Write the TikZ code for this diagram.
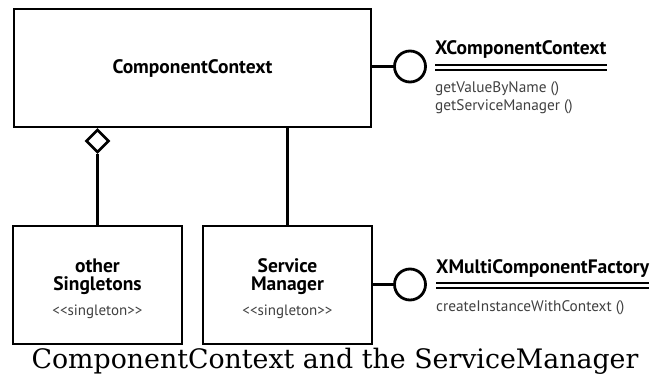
\documentclass[tikz,border=0pt]{standalone}
\usepackage{fontspec}
\newfontfamily\dg{PT Sans}
\newfontfamily\capf{DejaVu Serif}
\usetikzlibrary{shapes.geometric}
\definecolor{txtgray}{HTML}{404040}
\begin{document}
\begin{tikzpicture}[x=1pt,y=-1pt,
  cls/.style={draw, line width=2pt, inner sep=0pt},
  conn/.style={line width=3pt},
  ball/.style={draw, circle, line width=2.8pt, minimum size=31pt, inner sep=0pt},
  agg/.style={draw, diamond, line width=2.6pt, minimum width=23pt, minimum height=23pt, inner sep=0pt, aspect=1},
  ttl/.style={inner sep=0pt, font=\dg\bfseries\fontsize{19.5}{23}\selectfont},
  ste/.style={inner sep=0pt, text=txtgray, font=\dg\fontsize{15}{18}\selectfont},
  meth/.style={inner sep=0pt, text=txtgray, font=\dg\fontsize{15.3}{18}\selectfont},
  dbl/.style={line width=1.3pt}]
\useasboundingbox (0,0) rectangle (650,374);
% classes
\node[cls, minimum width=357pt, minimum height=118pt] (cc) at (192.5,68) {};
\node[ttl] (cctxt) at (192.5,68) {ComponentContext};
\node[cls, minimum width=169pt, minimum height=118pt] (b1) at (97.5,285) {};
\node[cls, minimum width=169pt, minimum height=118pt] (b2) at (287.5,285) {};
\node[ttl, anchor=base] (b1a) at (97.5,272) {other};
\node[ttl, anchor=base] (b1b) at (97.5,290.5) {Singletons};
\node[ste, anchor=base] (b1c) at (97.5,315) {<<singleton>>};
\node[ttl, anchor=base] (b2a) at (287.5,272) {Service};
\node[ttl, anchor=base] (b2b) at (287.5,290.5) {Manager};
\node[ste, anchor=base] (b2c) at (287.5,315) {<<singleton>>};
% aggregation
\node[agg] (dia) at (97.5,141) {};
\draw[conn] (dia.south) -- (b1.north);
\draw[conn] (b2.north) -- (b2.north |- cc.south);
% interfaces
\node[ball] (ball1) at (410,66.5) {};
\node[ball] (ball2) at (410,284.5) {};
\draw[conn] (ball1.west -| cc.east) -- (ball1.west);
\draw[conn] (ball2.west -| b2.east) -- (ball2.west);
\node[ttl, anchor=base west] (if1) at (435,54.5) {XComponentContext};
\draw[dbl] ([yshift=-10.5pt]if1.base west) -- ([yshift=-10.5pt]if1.base east);
\draw[dbl] ([yshift=-15.5pt]if1.base west) -- ([yshift=-15.5pt]if1.base east);
\node[meth, anchor=base west] (m1a) at (435,93) {getValueByName ()};
\node[meth, anchor=base west] (m1b) at (435,110.5) {getServiceManager ()};
\node[ttl, anchor=base west] (if2) at (436,273) {XMultiComponentFactory};
\draw[dbl] ([yshift=-10pt]if2.base west) -- ([yshift=-10pt]if2.base east);
\draw[dbl] ([yshift=-15pt]if2.base west) -- ([yshift=-15pt]if2.base east);
\node[meth, anchor=base west] (m2) at (436,311) {createInstanceWithContext ()};
% caption
\node[inner sep=0pt, anchor=base, font=\capf\fontsize{26.8}{30}\selectfont] (cap) at (335,368) {ComponentContext and the ServiceManager};
\end{tikzpicture}
\end{document}
